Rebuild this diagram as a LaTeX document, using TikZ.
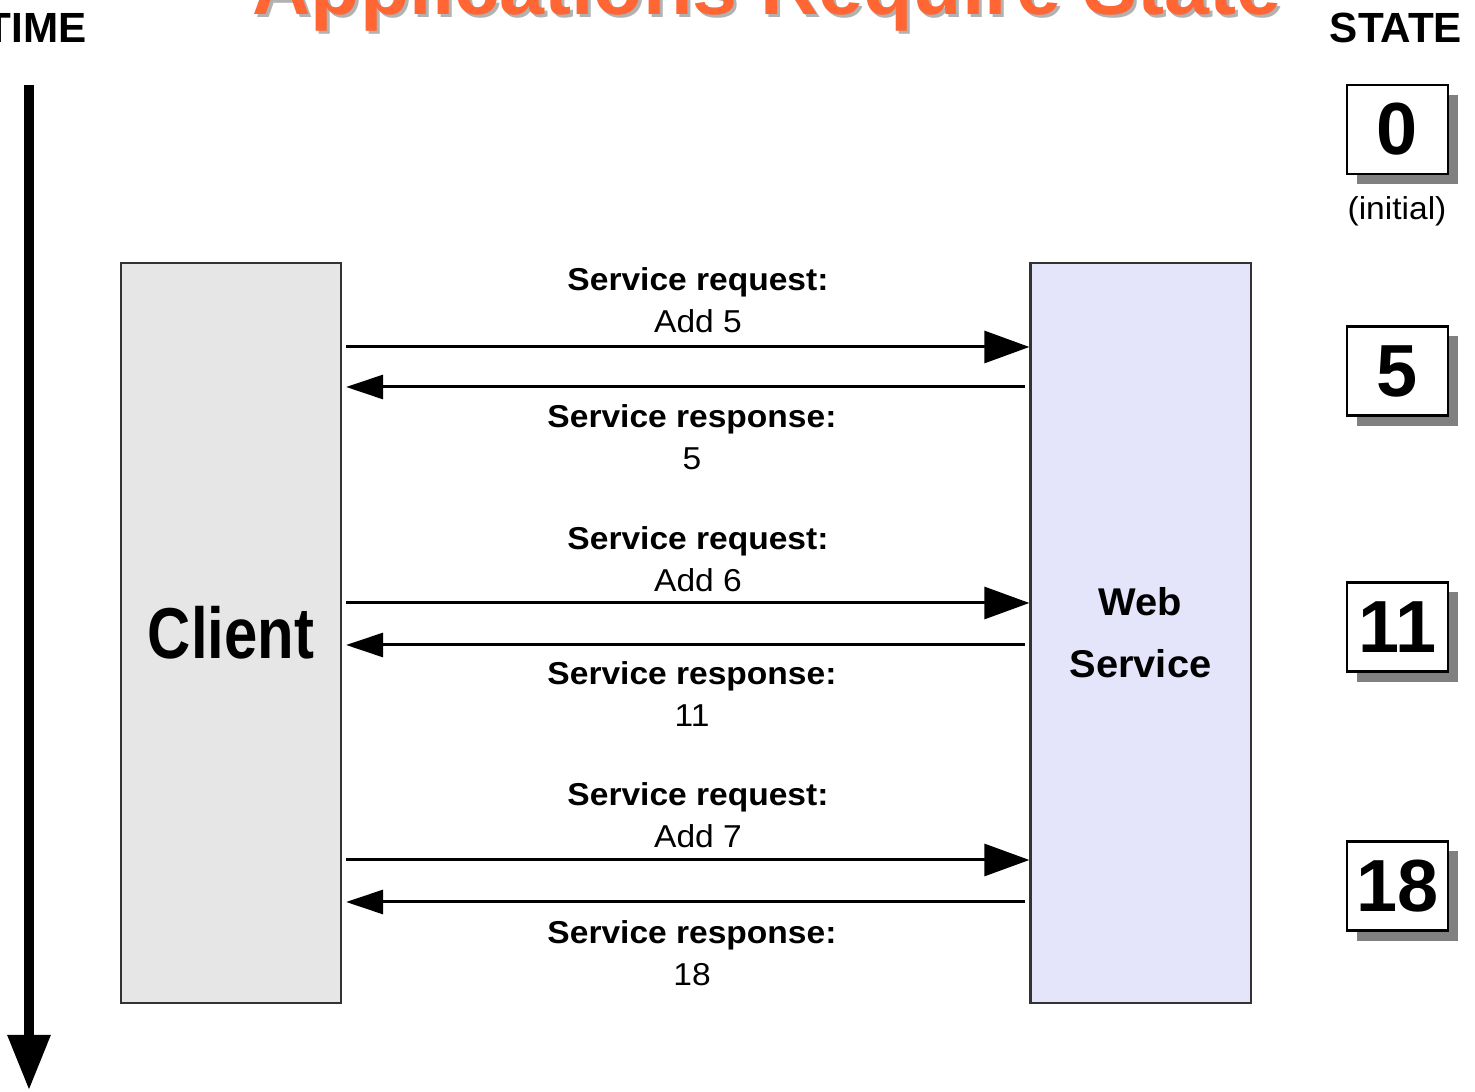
\documentclass[tikz,border=0pt]{standalone}
\usepackage{fontspec}
\setmainfont{Liberation Sans}
\usetikzlibrary{arrows.meta,shadows}
\definecolor{titleorange}{RGB}{255,102,51}
\definecolor{clientgray}{RGB}{230,230,230}
\definecolor{servicelav}{RGB}{228,228,250}
\begin{document}
\begin{tikzpicture}[x=.01cm,y=-.01cm,
    party/.style={draw=black!80,line width=.6pt,minimum width=2.2cm,minimum height=7.4cm,inner sep=0},
    statebox/.style={draw,line width=.6pt,fill=white,minimum width=1.01cm,minimum height=.89cm,inner sep=0,
        font=\fontsize{21}{21}\selectfont\bfseries,
        drop shadow={shadow xshift=.1cm,shadow yshift=-.1cm,fill=black!50,opacity=1}},
    lbl/.style={align=center,font=\fontsize{9}{11.8}\selectfont,xscale=1.06,inner sep=0},
    head/.style={font=\fontsize{12}{12}\selectfont\bfseries,anchor=base,inner sep=0},
    heading/.style={font=\fontsize{23}{23}\selectfont\bfseries,anchor=base,inner sep=0},
    req/.style={-{Triangle[length=.45cm,width=.32cm]},line width=.85pt,shorten <=.04cm},
    resp/.style={-{Triangle[length=.37cm,width=.24cm]},line width=.85pt,shorten <=.04cm,shorten >=.04cm}]
    \useasboundingbox (0,0) rectangle (1475,1092);
    % title, cut by the top edge
    \node[heading,text=black!30] (titleshadow) at (770,18) {Applications Require State};
    \node[heading,text=titleorange] (title) at (767,15) {Applications Require State};
    \node[head] (time) at (36,43) {TIME};
    \node[head] (state) at (1396,43) {STATE};
    \coordinate (t0) at (29,85);
    \coordinate (t1) at (29,1090);
    \draw[line width=2.6pt,-{Triangle[length=.55cm,width=.41cm]}] (t0)--(t1);
    % the two parties
    \node[party,fill=clientgray,font=\fontsize{20.5}{20.5}\selectfont\bfseries] (client) at (231,633) {\scalebox{.83}[1]{Client}};
    \node[party,fill=servicelav,align=center,font=\fontsize{11}{17.6}\selectfont\bfseries] (service) at (1140.5,633)
        {\scalebox{1.03}[1]{Web}\\\scalebox{1.03}[1]{Service}};
    % requests and responses
    \coordinate (q1) at (0,347); \coordinate (r1) at (0,387);
    \coordinate (q2) at (0,603); \coordinate (r2) at (0,645);
    \coordinate (q3) at (0,860); \coordinate (r3) at (0,902);
    \draw[req](client.east |- q1)--(service.west |- q1);
    \draw[resp](service.west |- r1)--(client.east |- r1);
    \draw[req](client.east |- q2)--(service.west |- q2);
    \draw[resp](service.west |- r2)--(client.east |- r2);
    \draw[req](client.east |- q3)--(service.west |- q3);
    \draw[resp](service.west |- r3)--(client.east |- r3);
    \node[lbl] (req1) at (698,300) {\textbf{Service request:}\\Add 5};
    \node[lbl] (resp1) at (692,437) {\textbf{Service response:}\\5};
    \node[lbl] (req2) at (698,559) {\textbf{Service request:}\\Add 6};
    \node[lbl] (resp2) at (692,694) {\textbf{Service response:}\\11};
    \node[lbl] (req3) at (698,815) {\textbf{Service request:}\\Add 7};
    \node[lbl] (resp3) at (692,953) {\textbf{Service response:}\\18};
    % state after each step
    \node[statebox] (s0) at (1397.5,129.5) {0};
    \node[lbl] (initial) at (1397,211) {(initial)};
    \node[statebox] (s1) at (1397.5,371) {5};
    \node[statebox] (s2) at (1397.5,627) {11};
    \node[statebox] (s3) at (1397.5,886) {18};
\end{tikzpicture}
\end{document}
